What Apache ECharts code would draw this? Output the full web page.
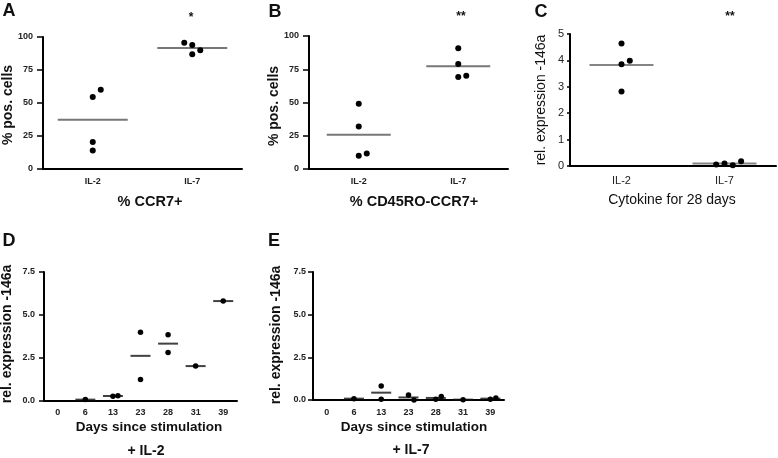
<!DOCTYPE html>
<html><head><meta charset="utf-8">
<script src="https://cdn.jsdelivr.net/npm/echarts@6/dist/echarts.min.js"></script>
<style>html,body{margin:0;padding:0;background:#fff}#c{width:778px;height:458px}</style>
</head><body><div id="c"></div>
<script>
// ---------- data ----------
const cytokines = ['IL-2', 'IL-7'];
const dayCats = ['0', '6', '13', '23', '28', '31', '39'];
const pctTicks = [0, 25, 50, 75, 100];
const relTicksC = [0, 1, 2, 3, 4, 5];
const relTicksDE = [0, 2.5, 5, 7.5];
// A: % CCR7+
const ccr7IL2 = [54.5, 60, 20.5, 14];
const ccr7IL7 = [94, 87, 90, 95.7];
// B: % CD45RO-CCR7+
const cd45IL2 = [49, 32, 10, 11.7];
const cd45IL7 = [90.8, 78.9, 69.2, 70.1];
// C: rel. expression -146a after 28 days
const mirIL2 = [4.64, 3.85, 3.99, 2.82];
const mirIL7 = [0.09, 0.03, 0.06, 0.18];
// D: + IL-2 over days
const dIL2 = [[], [0.08], [0.27, 0.31], [4.0, 1.25], [3.85, 2.82], [2.03], [5.81]];
// E: + IL-7 over days
const dIL7 = [[], [0.08], [0.82, 0.04], [0.3, 0.0], [0.04, 0.2], [0.02], [0.04, 0.12]];

// ---------- layout ----------
const FONT = '"Liberation Sans", Arial, Helvetica, sans-serif';
const panels = [
  {cats: cytokines, groups: [ccr7IL2, ccr7IL7], ticks: pctTicks, grid: {left: 43, top: 37, width: 199, height: 132},
   lbl: {fontSize: 9, fontWeight: 'bold'}, yMargin: 10, xMargin: 8, lineW: 70, lineColor: '#555', step: 8, dot: 6, dec: 0, yTick: 6},
  {cats: cytokines, groups: [cd45IL2, cd45IL7], ticks: pctTicks, grid: {left: 309, top: 36, width: 199, height: 133},
   lbl: {fontSize: 9, fontWeight: 'bold'}, yMargin: 10, xMargin: 8, lineW: 64, lineColor: '#555', step: 8, dot: 6, dec: 0, yTick: 6},
  {cats: cytokines, groups: [mirIL2, mirIL7], ticks: relTicksC, grid: {left: 570, top: 34, width: 206, height: 132},
   lbl: {fontSize: 11, fontWeight: 'normal'}, yMargin: 6, xMargin: 9, lineW: 64, lineColor: '#666', step: 8.3, dot: 6, dec: 0, yTick: 3},
  {cats: dayCats, groups: dIL2, ticks: relTicksDE, grid: {left: 44, top: 272, width: 193, height: 129},
   lbl: {fontSize: 9, fontWeight: 'bold'}, yMargin: 9, xMargin: 7, lineW: 20, lineColor: '#111', step: 5, dot: 5.5, dec: 1, yTick: 5},
  {cats: dayCats, groups: dIL7, ticks: relTicksDE, grid: {left: 313, top: 272, width: 191, height: 128},
   lbl: {fontSize: 9, fontWeight: 'bold'}, yMargin: 7, xMargin: 8, lineW: 20, lineColor: '#111', step: 5.5, dot: 5.5, dec: 1, yTick: 5}
];

function swarm(vals, thr) {
  const placed = [];
  return vals.map(v => {
    for (const s of [0, 1, -1, 2, -2, 3, -3]) {
      if (!placed.some(p => p.s === s && Math.abs(p.v - v) < thr)) { placed.push({v, s}); return s; }
    }
    return 0;
  });
}

const grid = [], xAxis = [], yAxis = [], series = [];
panels.forEach((p, i) => {
  grid.push(p.grid);
  xAxis.push({type: 'category', gridIndex: i, data: p.cats, boundaryGap: true,
    axisLine: {lineStyle: {color: '#000', width: 2}},
    axisTick: {alignWithLabel: true, length: 4, lineStyle: {color: '#000', width: 1.5}},
    axisLabel: {color: '#222', fontFamily: FONT, fontSize: p.lbl.fontSize, fontWeight: p.lbl.fontWeight, margin: p.xMargin, interval: 0},
    splitLine: {show: false}});
  const tk = p.ticks;
  yAxis.push({type: 'value', gridIndex: i, min: tk[0], max: tk[tk.length - 1], interval: tk[1] - tk[0],
    axisLine: {show: true, lineStyle: {color: '#000', width: 2}},
    axisTick: {show: true, length: p.yTick, lineStyle: {color: '#000', width: 1.5}},
    axisLabel: {color: '#222', fontFamily: FONT, fontSize: p.lbl.fontSize, fontWeight: p.lbl.fontWeight, margin: p.yMargin,
      formatter: v => v.toFixed(p.dec)},
    splitLine: {show: false}});
  const thr = 8 * (tk[tk.length - 1] - tk[0]) / p.grid.height;
  const dots = [], means = [];
  p.groups.forEach((vals, ci) => {
    if (!vals.length) return;
    const slots = swarm(vals, thr);
    vals.forEach((v, k) => dots.push({value: [ci, v], symbolOffset: [slots[k] * p.step, 0]}));
    means.push([ci, vals.reduce((a, b) => a + b, 0) / vals.length]);
  });
  series.push({type: 'scatter', xAxisIndex: i, yAxisIndex: i, data: means, symbol: 'rect',
    symbolSize: [p.lineW, 2], itemStyle: {color: p.lineColor}, z: 2, silent: true, animation: false});
  series.push({type: 'scatter', xAxisIndex: i, yAxisIndex: i, data: dots, symbol: 'circle',
    symbolSize: p.dot, itemStyle: {color: '#000', opacity: 1}, z: 3, silent: true, animation: false});
});

function txt(text, x, y, size, weight, rot) {
  return {type: 'text', x: x, y: y, rotation: rot || 0, silent: true,
    style: {text: text, fill: '#111', font: weight + ' ' + size + 'px ' + FONT,
      align: 'center', verticalAlign: 'middle', textAlign: 'center', textVerticalAlign: 'middle'}};
}
const R = Math.PI / 2;
const graphic = [
  txt('A', 9, 11, 18, 'bold'), txt('B', 275, 12, 18, 'bold'), txt('C', 541, 12, 18, 'bold'),
  txt('D', 9, 241, 18, 'bold'), txt('E', 274, 241, 18, 'bold'),
  txt('*', 191, 18, 12, 'bold'), txt('**', 461, 17, 12, 'bold'), txt('**', 730, 17, 12, 'bold'),
  txt('% pos. cells', 8.5, 105, 14, 'bold', R), txt('% CCR7+', 150, 202, 14.5, 'bold'),
  txt('% pos. cells', 274, 106, 14, 'bold', R), txt('% CD45RO-CCR7+', 414, 202, 14.5, 'bold'),
  txt('rel. expression -146a', 541, 100, 14, 'normal', R), txt('Cytokine for 28 days', 672, 200, 14, 'normal'),
  txt('rel. expression -146a', 7.5, 334, 14, 'bold', R), txt('Days since stimulation', 149, 427, 13.5, 'bold'),
  txt('+ IL-2', 146, 451, 14, 'bold'),
  txt('rel. expression -146a', 276.5, 335, 14, 'bold', R), txt('Days since stimulation', 414, 427, 13.5, 'bold'),
  txt('+ IL-7', 411, 450, 14, 'bold')
];

const chart = echarts.init(document.getElementById('c'), null, {renderer: 'canvas'});
chart.setOption({animation: false, backgroundColor: '#fff', grid, xAxis, yAxis, series, graphic});
</script></body></html>
